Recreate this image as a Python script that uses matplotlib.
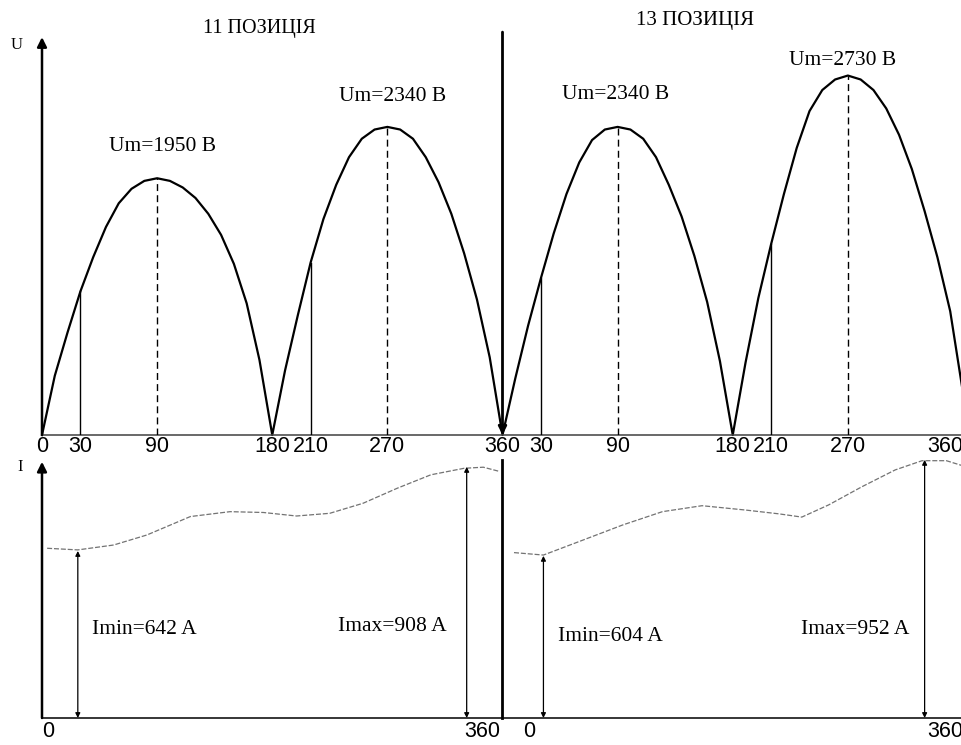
import matplotlib.pyplot as plt

# Rectified voltage, read every 10 degrees (two positions, 0..360 each)
u_deg = list(range(0, 721, 10))
u_volt = [0, 450, 780, 1090, 1350, 1580, 1760, 1870, 1930, 1950,
          1930, 1880, 1800, 1680, 1520, 1300, 1000, 570,
          0, 490, 910, 1310, 1640, 1900, 2110, 2250, 2320, 2340,
          2320, 2250, 2110, 1920, 1680, 1380, 1030, 590,
          0, 430, 830, 1190, 1530, 1830, 2070, 2240, 2320, 2340,
          2320, 2250, 2110, 1900, 1660, 1360, 1010, 560,
          0, 550, 1040, 1450, 1830, 2180, 2460, 2620, 2700, 2730,
          2700, 2620, 2480, 2280, 2020, 1700, 1350, 940, 320]
peak_deg = [90, 270, 450, 630]
line_deg = [30, 210, 390, 570]
um_labels = ['Um=1950 В', 'Um=2340 В', 'Um=2340 В', 'Um=2730 В']

tick_deg = [0, 30, 90, 180, 210, 270, 360, 390, 450, 540, 570, 630, 720]
tick_lab = ['0', '30', '90', '180', '210', '270', '360',
            '30', '90', '180', '210', '270', '360']

# Current curves
i1_deg = [4, 28, 56, 82, 116, 147, 173, 199, 225, 251, 278, 304, 330, 345, 358]
i1_amp = [626, 620, 638, 675, 743, 761, 758, 745, 755, 792, 848, 897, 921, 925, 909]
i2_deg = [369, 392, 420, 454, 485, 516, 550, 576, 594, 615, 641, 667, 688, 707, 720]
i2_amp = [610, 601, 651, 712, 761, 783, 767, 753, 741, 786, 853, 915, 949, 949, 930]

arrow_deg = [28, 332, 392, 690]
arrow_amp = [616, 926, 598, 952]
i_labels = ['Imin=642 A', 'Imax=908 A', 'Imin=604 A', 'Imax=952 A']

titles = ['11 ПОЗИЦІЯ', '13 ПОЗИЦІЯ']

plt.rcParams['font.family'] = 'Liberation Sans'
SERIF = 'Liberation Serif'

fig = plt.figure(figsize=(9.62, 7.45), dpi=100)
W, H = 962.0, 745.0
ax_u = fig.add_axes([42 / W, 1 - 435 / H, 921 / W, 395 / H])
ax_i = fig.add_axes([42 / W, 1 - 718 / H, 921 / W, 263 / H])

for ax in (ax_u, ax_i):
    ax.set_xlim(0, 720)
    for s in ax.spines.values():
        s.set_visible(False)
ax_u.set_ylim(0, 3000)
ax_i.set_ylim(0, 970)

# ---- voltage panel ----
ax_u.plot(u_deg, u_volt, color='k', lw=1.6, clip_on=False)
ax_u.plot([0, 720], [0, 0], color='0.25', lw=1.1, clip_on=False)
for d in line_deg:
    ax_u.plot([d, d], [0, u_volt[u_deg.index(d)]], color='k', lw=1.0)
offs = [(4, 23), (4, 22), (-1.5, 23), (-3.5, 11)]
for d, lab, o in zip(peak_deg, um_labels, offs):
    v = u_volt[u_deg.index(d)]
    ax_u.plot([d, d], [0, v], color='k', lw=1.0, linestyle=(0, (5, 3)))
    ax_u.annotate(lab, xy=(d, v), xytext=o, textcoords='offset points',
                  ha='center', va='center', fontsize=15.5, family=SERIF)

ax_u.annotate('', xy=(0, 3022), xytext=(0, 0),
              arrowprops=dict(arrowstyle='-|>', lw=1.8, color='k',
                              mutation_scale=14, shrinkA=0, shrinkB=0),
              annotation_clip=False)
ax_u.annotate('', xy=(360, 0), xytext=(360, 3060),
              arrowprops=dict(arrowstyle='-|>', lw=2.0, color='k',
                              mutation_scale=12, shrinkA=0, shrinkB=0),
              annotation_clip=False)

ax_u.set_xticks(tick_deg)
ax_u.set_xticklabels(tick_lab, fontsize=15.5)
ax_u.tick_params(axis='x', length=0, pad=1)
ax_u.get_xticklabels()[-1].set_ha('right')
ax_u.set_yticks([])

# ---- current panel ----
ax_i.plot(i1_deg, i1_amp, color='0.45', lw=0.9, linestyle=(0, (4, 1.5)))
ax_i.plot(i2_deg, i2_amp, color='0.45', lw=0.9, linestyle=(0, (4, 1.5)),
          clip_on=False)
ax_i.plot([0, 720], [0, 0], color='0.15', lw=1.3, clip_on=False)
ax_i.plot([360, 360], [0, 952], color='k', lw=2.0, clip_on=False)
ax_i.annotate('', xy=(0, 945), xytext=(0, 0),
              arrowprops=dict(arrowstyle='-|>', lw=1.8, color='k',
                              mutation_scale=14, shrinkA=0, shrinkB=0),
              annotation_clip=False)
for d, a in zip(arrow_deg, arrow_amp):
    ax_i.annotate('', xy=(d, a), xytext=(d, 0),
                  arrowprops=dict(arrowstyle='<|-|>', lw=0.9, color='k',
                                  mutation_scale=7, shrinkA=0, shrinkB=0))
lab_pos = [(80, 325), (274, 339), (444, 299), (636, 325)]
for (x, y), lab in zip(lab_pos, i_labels):
    ax_i.text(x, y, lab, ha='center', va='center', fontsize=15.5, family=SERIF)

ax_i.set_xticks([])
ax_i.set_yticks([])
for x, lab, ha in [(0, '0', 'left'), (358, '360', 'right'),
                   (376, '0', 'left'), (720, '360', 'right')]:
    ax_i.text(x, -48, lab, ha=ha, va='center', fontsize=15.5, clip_on=False)

# ---- titles and axis names ----
fig.text(259 / W, 1 - 28 / H, titles[0], ha='center', va='center',
         fontsize=14.5, family=SERIF)
fig.text(695 / W, 1 - 20 / H, titles[1], ha='center', va='center',
         fontsize=15, family=SERIF)
fig.text(17 / W, 1 - 45 / H, 'U', ha='center', va='center',
         fontsize=12, family=SERIF)
fig.text(20 / W, 1 - 467 / H, 'I', ha='center', va='center',
         fontsize=12, family=SERIF)

fig.savefig('out.png', dpi=100, facecolor='white')
